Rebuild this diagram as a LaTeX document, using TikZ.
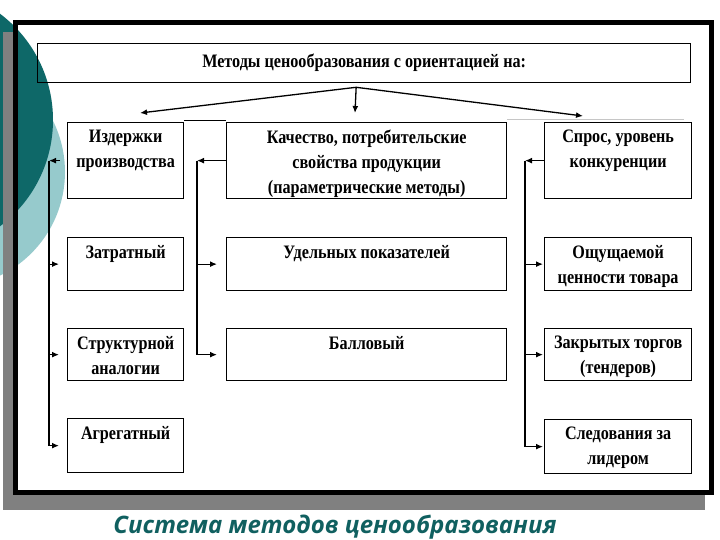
\documentclass[tikz,border=0pt]{standalone}
\usepackage{fontspec}
\setmainfont{Liberation Serif}[FakeStretch=0.85]
\newfontfamily\capfont{Open Sans}
\usetikzlibrary{arrows.meta, positioning}
\definecolor{darkteal}{RGB}{14,104,104}
\definecolor{paleteal}{RGB}{150,202,204}
\definecolor{captionteal}{RGB}{16,96,96}
\definecolor{shadowgray}{RGB}{128,128,128}
\newcommand{\cellfont}{\fontsize{19}{25}\selectfont\bfseries}

\tikzset{
  cell/.style={draw, line width=1.3pt, inner sep=0pt, anchor=north west},
  lbl/.style={anchor=north, align=center, inner sep=0pt, yshift=-8pt, font=\cellfont},
  arr/.style={-{Latex[length=7pt,width=6pt]}, line width=1.3pt},
  bus/.style={line width=1.2pt},
}

\begin{document}
\begin{tikzpicture}[x=1pt, y=-1pt]
    \useasboundingbox (0,0) rectangle (720,540);

    \fill[paleteal] (-50,172) circle (115pt);
    \fill[darkteal] (-80,120) circle (133pt);
    \fill[shadowgray] (3,32) rectangle (13,510);
    \fill[shadowgray] (3,495) rectangle (705,510);
    \draw[line width=5pt] (15.5,22.5) rectangle (711.5,492.5);

    \node[cell, minimum width=653pt, minimum height=39pt, font=\cellfont] (title) at (37,43) {Методы ценообразования с ориентацией на:};

    \node[cell, minimum width=116pt, minimum height=76pt, label={[lbl]north:{Издержки\\производства}}] (izd) at (67,122) {};
    \node[cell, minimum width=280pt, minimum height=76pt, label={[lbl]north:{Качество, потребительские\\свойства продукции\\(параметрические методы)}}] (kach) at (226,122) {};
    \node[cell, minimum width=147pt, minimum height=76pt, label={[lbl]north:{Спрос, уровень\\конкуренции}}] (spros) at (544,122) {};

    \node[cell, minimum width=116pt, minimum height=53pt, label={[lbl]north:{Затратный}}] (zatr) at (67,237) {};
    \node[cell, minimum width=280pt, minimum height=53pt, label={[lbl]north:{Удельных показателей}}] (udel) at (226,237) {};
    \node[cell, minimum width=147pt, minimum height=53pt, label={[lbl]north:{Ощущаемой\\ценности товара}}] (oshch) at (544,237) {};

    \node[cell, minimum width=116pt, minimum height=52pt, label={[lbl]north:{Структурной\\аналогии}}] (struk) at (67,328) {};
    \node[cell, minimum width=280pt, minimum height=52pt, label={[lbl]north:{Балловый}}] (ball) at (226,328) {};
    \node[cell, minimum width=147pt, minimum height=52pt, label={[lbl]north:{Закрытых торгов\\(тендеров)}}] (zakr) at (544,328) {};

    \node[cell, minimum width=116pt, minimum height=54pt, label={[lbl]north:{Агрегатный}}] (agreg) at (67,418) {};
    \node[cell, minimum width=147pt, minimum height=54pt, label={[lbl]north:{Следования за\\лидером}}] (sled) at (544,419) {};

    \coordinate (fork) at ([xshift=-8pt, yshift=-4pt]title.south);
    \coordinate (izdtip) at (140,113);
    \coordinate (kachtip) at (355,113);
    \coordinate (sprostip) at (583,116);
    \draw[arr] (fork) -- (izdtip);
    \draw[arr] (fork) -- (kachtip);
    \draw[arr] (fork) -- (sprostip);

    \draw[line width=1pt] ([yshift=1.5pt]izd.north east) -- ([yshift=1.5pt]kach.north west);
    \draw[gray!45, line width=0.6pt] ([yshift=2.5pt]kach.north east) -- ([xshift=-8pt, yshift=2.5pt]spros.north east);

    \coordinate (lbus) at (49,0);
    \coordinate (mbus) at (197,0);
    \coordinate (rbus) at (525,0);

    \draw[arr, shorten <=7pt] (izd.west) -- (izd.west -| lbus);
    \draw[bus] (izd.west -| lbus) -- (agreg.west -| lbus);
    \draw[arr, shorten >=8pt] (zatr.west -| lbus) -- (zatr.west);
    \draw[arr, shorten >=8pt] (struk.west -| lbus) -- (struk.west);
    \draw[arr, shorten >=8pt] (agreg.west -| lbus) -- (agreg.west);

    \draw[arr] (kach.west) -- (kach.west -| mbus);
    \draw[bus] (kach.west -| mbus) -- (ball.west -| mbus);
    \draw[arr, shorten >=9pt] (udel.west -| mbus) -- (udel.west);
    \draw[arr, shorten >=9pt] (ball.west -| mbus) -- (ball.west);

    \draw[arr] (spros.west) -- (spros.west -| rbus);
    \draw[bus] (spros.west -| rbus) -- (sled.west -| rbus);
    \draw[arr, shorten >=1pt] (oshch.west -| rbus) -- (oshch.west);
    \draw[arr, shorten >=1pt] (zakr.west -| rbus) -- (zakr.west);
    \draw[arr, shorten >=1pt] (sled.west -| rbus) -- (sled.west);

    \node[anchor=base, text=captionteal, font=\capfont\bfseries\itshape\fontsize{24}{28}\selectfont] (caption) at (335,533) {Система методов ценообразования};
\end{tikzpicture}
\end{document}
